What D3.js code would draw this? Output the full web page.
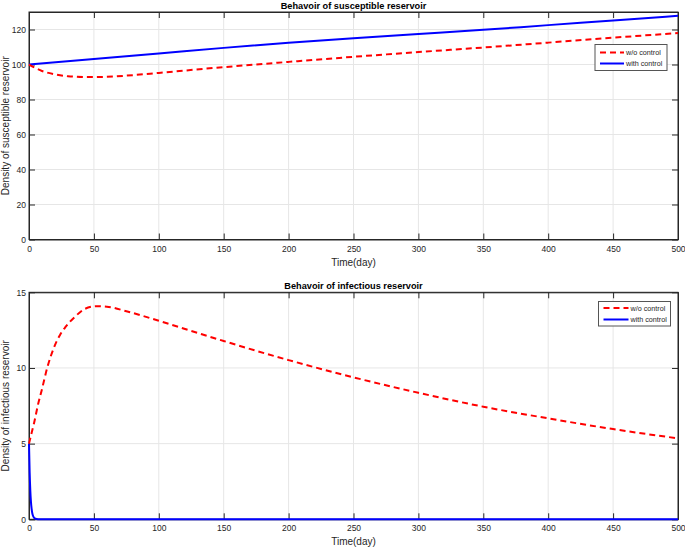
<!DOCTYPE html>
<html><head><meta charset="utf-8">
<script src="https://cdn.jsdelivr.net/npm/d3@7"></script>
<style>body{margin:0;background:#fff}svg{display:block}text{font-family:"Liberation Sans",Arial,sans-serif}</style>
</head><body><svg id="c" width="685" height="548"></svg>
<script>
// ---- data ----
const xTicks = [0,50,100,150,200,250,300,350,400,450,500];
const topYTicks = [0,20,40,60,80,100,120];
const botYTicks = [0,5,10,15];
const seriesNames = ["w/o control","with control"];

const susT_wo = [0,5,10,20,30,45,60,80,100,150,200,250,300,350,400,450,500];
const susV_wo = [100,98.0,96.3,94.4,93.3,92.8,93.0,93.9,95.2,98.5,101.5,104.4,107.1,109.7,112.5,115.3,118.0];
const susT_w = [0,50,100,150,200,250,300,350,400,450,500];
const susV_w = [100,103.1,106.3,109.5,112.4,115.0,117.4,119.8,122.5,125.1,127.8];

const infT_wo = [0,2,4,7,10,14,19,24,28,35,43,52,60,75,100,125,150,200,250,300,350,400,450,500];
const infV_wo = [5,5.7,6.4,7.6,8.6,10.0,11.3,12.2,12.7,13.35,13.9,14.08,14.05,13.75,13.12,12.45,11.78,10.52,9.38,8.36,7.44,6.67,5.96,5.35];
const infT_w = [0,0.5,1,1.5,2,2.5,3,4,5,7,10,500];
const infV_w = [5,3.1,1.9,1.15,0.7,0.42,0.25,0.1,0.04,0.01,0,0];

const svg = d3.select("#c");
const W0 = 29, W1 = 678;

function panel(cfg){
  const x = d3.scaleLinear().domain([0,500]).range([W0,W1]);
  const y = d3.scaleLinear().domain(cfg.ydom).range([cfg.y1,cfg.y0]);
  const g = svg.append("g");
  // grid
  g.selectAll(".gx").data(xTicks.slice(1,-1)).join("line")
    .attr("x1",d=>x(d)).attr("x2",d=>x(d)).attr("y1",cfg.y0).attr("y2",cfg.y1)
    .attr("stroke","#e6e6e6").attr("stroke-width",1);
  g.selectAll(".gy").data(cfg.yticks.filter(d=>d>cfg.ydom[0]&&d<cfg.ydom[1])).join("line")
    .attr("x1",W0).attr("x2",W1).attr("y1",d=>y(d)).attr("y2",d=>y(d))
    .attr("stroke","#e6e6e6").attr("stroke-width",1);
  // box
  g.append("rect").attr("x",W0).attr("y",cfg.y0).attr("width",W1-W0).attr("height",cfg.y1-cfg.y0)
    .attr("fill","none").attr("stroke","#262626").attr("stroke-width",1);
  // axes with inward ticks
  const ax = g.append("g").attr("transform",`translate(0,${cfg.y1})`)
    .call(d3.axisBottom(x).tickValues(xTicks).tickSizeInner(-6).tickSizeOuter(0).tickPadding(6));
  const axTop = g.append("g").attr("transform",`translate(0,${cfg.y0})`)
    .call(d3.axisTop(x).tickValues(xTicks).tickSizeInner(-6).tickSizeOuter(0).tickFormat(""));
  const ay = g.append("g").attr("transform",`translate(${W0},0)`)
    .call(d3.axisLeft(y).tickValues(cfg.yticks).tickSizeInner(-6).tickSizeOuter(0).tickPadding(3));
  const ayR = g.append("g").attr("transform",`translate(${W1},0)`)
    .call(d3.axisRight(y).tickValues(cfg.yticks).tickSizeInner(-6).tickSizeOuter(0).tickFormat(""));
  [ax,axTop,ay,ayR].forEach(a=>{
    a.select(".domain").attr("stroke","#262626");
    a.selectAll(".tick line").attr("stroke","#262626");
    a.selectAll("text").attr("fill","#262626").style("font-size","8.5px").style("font-family","Liberation Sans, Arial, sans-serif");
  });
  // lines
  const line = d3.line().x(d=>x(d[0])).y(d=>y(d[1])).curve(d3.curveMonotoneX);
  g.append("path").datum(cfg.tw.map((t,i)=>[t,cfg.vw[i]]))
    .attr("d",line).attr("fill","none").attr("stroke","#0000ff").attr("stroke-width",2);
  g.append("path").datum(cfg.two.map((t,i)=>[t,cfg.vwo[i]]))
    .attr("d",line).attr("fill","none").attr("stroke","#ff0000").attr("stroke-width",2).attr("stroke-dasharray","6,4");
  // title
  g.append("text").attr("x",(W0+W1)/2).attr("y",cfg.y0-3).attr("text-anchor","middle")
    .style("font-size","9.2px").style("font-weight","bold").attr("fill","#000").text(cfg.title);
  g.append("text").attr("x",(W0+W1)/2).attr("y",cfg.y1+26).attr("text-anchor","middle")
    .style("font-size","10px").attr("fill","#262626").text("Time(day)");
  g.append("text").attr("transform",`translate(9,${(cfg.y0+cfg.y1)/2}) rotate(-90)`).attr("text-anchor","middle")
    .style("font-size","10px").attr("fill","#262626").text(cfg.ylabel);
  // legend
  const L = cfg.leg;
  const lg = g.append("g");
  lg.append("rect").attr("x",L.x).attr("y",L.y).attr("width",L.w).attr("height",L.h)
    .attr("fill","#fff").attr("stroke","#555").attr("stroke-width",1);
  const rows = [{n:seriesNames[0],c:"#ff0000",d:"6,4"},{n:seriesNames[1],c:"#0000ff",d:null}];
  rows.forEach((r,i)=>{
    const yy = L.y + L.r0 + i*L.dr;
    lg.append("line").attr("x1",L.x+5).attr("x2",L.x+L.ll).attr("y1",yy).attr("y2",yy)
      .attr("stroke",r.c).attr("stroke-width",2).attr("stroke-dasharray",r.d);
    lg.append("text").attr("x",L.x+L.ll+2).attr("y",yy+2.5).style("font-size","7.2px").attr("fill","#262626").text(r.n);
  });
}

panel({y0:12, y1:239.5, ydom:[0,130], yticks:topYTicks, two:susT_wo, vwo:susV_wo, tw:susT_w, vw:susV_w,
  title:"Behavoir of susceptible reservoir", ylabel:"Density of susceptible reservoir",
  leg:{x:595,y:44.5,w:72,h:26,r0:8,dr:11,ll:29}});
panel({y0:292.3, y1:519.3, ydom:[0,15], yticks:botYTicks, two:infT_wo, vwo:infV_wo, tw:infT_w, vw:infV_w,
  title:"Behavoir of infectious reservoir", ylabel:"Density of infectious reservoir",
  leg:{x:598.5,y:301.5,w:72,h:24.5,r0:6.5,dr:11.5,ll:30}});
</script></body></html>
